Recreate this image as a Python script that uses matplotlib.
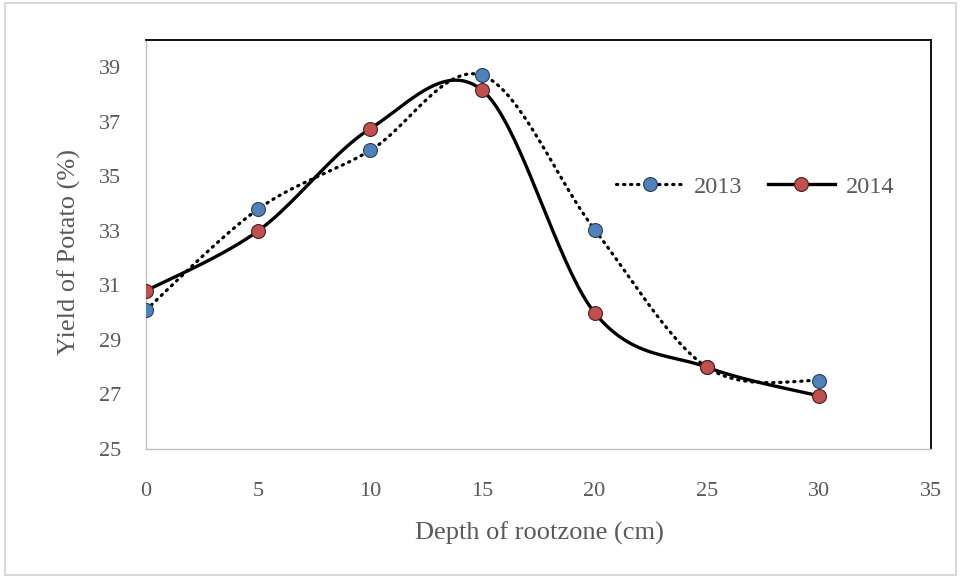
import numpy as np
import matplotlib
matplotlib.use("Agg")
import matplotlib.pyplot as plt
from matplotlib.patches import Rectangle

depth = [0, 5, 10, 15, 20, 25, 30]
yield_2013 = [30.1, 33.8, 35.95, 38.7, 33.05, 28.0, 27.5]
yield_2014 = [30.8, 33.0, 36.75, 38.15, 30.0, 28.0, 26.95]
series_names = ["2013", "2014"]
x_ticks = [0, 5, 10, 15, 20, 25, 30, 35]
y_ticks = [25, 27, 29, 31, 33, 35, 37, 39]


def smooth(x, y, n=40):
    # Excel-like smoothed line: cubic Bezier with Catmull-Rom control points
    x = np.asarray(x, float)
    y = np.asarray(y, float)
    px = np.concatenate([[x[0]], x, [x[-1]]])
    py = np.concatenate([[y[0]], y, [y[-1]]])
    xs, ys = [], []
    t = np.linspace(0, 1, n)
    for i in range(1, len(px) - 2):
        p0 = np.array([px[i], py[i]])
        p3 = np.array([px[i + 1], py[i + 1]])
        p1 = p0 + (np.array([px[i + 1], py[i + 1]]) - np.array([px[i - 1], py[i - 1]])) / 6
        p2 = p3 - (np.array([px[i + 2], py[i + 2]]) - np.array([px[i], py[i]])) / 6
        b = ((1 - t) ** 3)[:, None] * p0 + (3 * (1 - t) ** 2 * t)[:, None] * p1 \
            + (3 * (1 - t) * t ** 2)[:, None] * p2 + (t ** 3)[:, None] * p3
        xs.extend(b[:, 0])
        ys.extend(b[:, 1])
    return np.array(xs), np.array(ys)


plt.rcParams["font.family"] = ["Liberation Serif", "DejaVu Serif"]
text_color = "#595959"
dot_style = (0, (0.4, 1.8))

fig = plt.figure(figsize=(9.61, 5.77), dpi=100)
fig.patches.append(Rectangle((5 / 961, 2 / 577), 951 / 961, 572 / 577, transform=fig.transFigure,
                             fill=False, edgecolor="#D9D9D9", linewidth=1.5))
ax = fig.add_axes([146 / 961, (577 - 449) / 577, (931 - 146) / 961, (449 - 40) / 577])

sx, sy = smooth(depth, yield_2013)
ax.plot(sx, sy, color="black", linestyle=dot_style, linewidth=2.3,
        dash_capstyle="round", zorder=2)
sx2, sy2 = smooth(depth, yield_2014)
ax.plot(sx2, sy2, color="black", linestyle="-", linewidth=2.4, zorder=3)

ax.plot(depth, yield_2013, linestyle="none", marker="o", markersize=10,
        markerfacecolor="#4F81BD", markeredgecolor="#2E3F55", markeredgewidth=0.8, zorder=4)
ax.plot(depth, yield_2014, linestyle="none", marker="o", markersize=10,
        markerfacecolor="#C0504D", markeredgecolor="#4A2020", markeredgewidth=0.8, zorder=5)

# legend proxies
h1, = ax.plot([], [], color="black", linestyle=dot_style, linewidth=2.3,
              dash_capstyle="round", marker="o", markersize=10, markerfacecolor="#4F81BD",
              markeredgecolor="#2E3F55", markeredgewidth=0.8)
h2, = ax.plot([], [], color="black", linestyle="-", linewidth=2.4,
              marker="o", markersize=10, markerfacecolor="#C0504D",
              markeredgecolor="#4A2020", markeredgewidth=0.8)
leg = ax.legend([h1, h2], series_names, loc="center", bbox_to_anchor=(0.776, 0.641),
                ncol=2, frameon=False, fontsize=17.5, handlelength=2.75, columnspacing=1.05,
                handletextpad=0.45, labelcolor=text_color, borderpad=0, borderaxespad=0)

ax.set_xlim(0, 35)
ax.set_ylim(25, 40)
ax.set_xticks(x_ticks)
ax.set_yticks(y_ticks)
ax.tick_params(axis="both", length=0, labelsize=16, colors=text_color)
ax.tick_params(axis="x", pad=24)
ax.tick_params(axis="y", pad=18)

for side in ["top", "right"]:
    ax.spines[side].set_color("black")
    ax.spines[side].set_linewidth(1.3)
for side in ["left", "bottom"]:
    ax.spines[side].set_color("#BFBFBF")
    ax.spines[side].set_linewidth(1.0)

ax.set_xlabel("Depth of rootzone (cm)", fontsize=19, color=text_color)
ax.set_ylabel("Yield of Potato (%)", fontsize=19, color=text_color)
ax.xaxis.set_label_coords(0.5006, -0.205)
ax.xaxis.label.set_va("center")
ax.yaxis.set_label_coords(-0.098, 0.482)
ax.yaxis.label.set_va("center")

fig.savefig("out.png", dpi=100)
